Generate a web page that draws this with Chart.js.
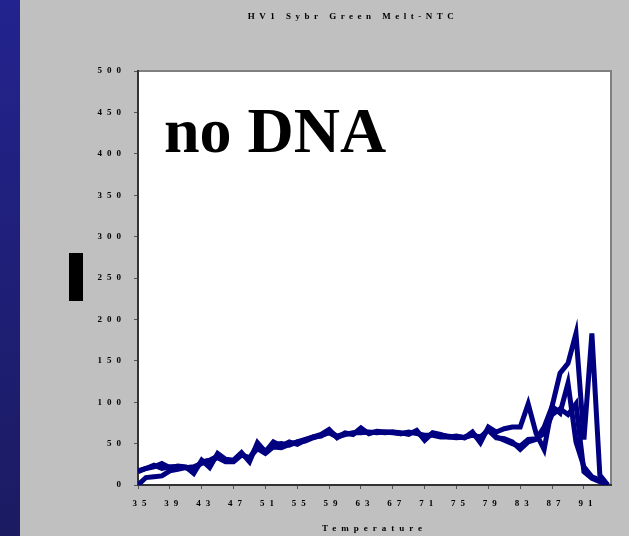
<!DOCTYPE html>
<html>
<head>
<meta charset="utf-8">
<title>HV1 Sybr Green Melt-NTC</title>
<script src="https://cdn.jsdelivr.net/npm/chart.js@4.4.1/dist/chart.umd.min.js"></script>
<style>
  html, body { margin: 0; padding: 0; background: #c0c0c0; }
  #wrap { position: relative; width: 629px; height: 536px; overflow: hidden; }
  #sidebar {
    position: absolute; left: 0; top: 0; width: 20px; height: 536px;
    background: linear-gradient(to bottom, #23238f, #1b1b62);
  }
  #marker { position: absolute; left: 69px; top: 253px; width: 14px; height: 48px; background: #000; }
  canvas { position: absolute; left: 0; top: 0; }
</style>
</head>
<body>
<div id="wrap">
  <div id="sidebar"></div>
  <canvas id="melt" width="629" height="536"></canvas>
  <div id="marker"></div>
</div>
<script>
// Temperatures (one reading per degree)
const temps = [35, 36, 37, 38, 39, 40, 41, 42, 43, 44, 45, 46, 47, 48, 49, 50, 51, 52, 53, 54,
               55, 56, 57, 58, 59, 60, 61, 62, 63, 64, 65, 66, 67, 68, 69, 70, 71, 72, 73, 74,
               75, 76, 77, 78, 79, 80, 81, 82, 83, 84, 85, 86, 87, 88, 89, 90, 91, 92, 93, 94];

// Three no-template wells, all drawn in the same navy
const well1 = [16, 20, 22, 26, 21, 23, 22, 14, 30, 21, 38, 31, 30, 39, 28, 51, 40, 52, 47, 52,
               49, 54, 58, 61, 67, 57, 63, 61, 69, 62, 65, 64, 64, 63, 61, 66, 54, 63, 61, 58,
               59, 57, 64, 51, 70, 64, 68, 70, 70, 98, 62, 43, 95, 135, 147, 183, 55, 183, 12, 0];
const well2 = [0, 9, 10, 11, 17, 19, 21, 22, 26, 29, 33, 28, 28, 36, 33, 44, 38, 46, 45, 49,
               52, 53, 57, 60, 63, 58, 61, 63, 63, 64, 63, 64, 63, 62, 64, 62, 60, 60, 58, 58,
               57, 58, 60, 58, 66, 57, 56, 52, 43, 52, 55, 70, 95, 87, 123, 52, 22, 10, 6, 0];
const well3 = [17, 20, 24, 20, 22, 22, 21, 17, 28, 30, 35, 29, 29, 37, 32, 48, 41, 49, 50, 48,
               52, 55, 58, 59, 65, 59, 62, 62, 66, 63, 64, 63, 64, 62, 63, 64, 57, 62, 60, 59,
               58, 57, 61, 56, 68, 58, 54, 50, 47, 55, 56, 62, 85, 92, 85, 98, 16, 8, 4, 0];

// Axis tick labels
const xTicks = [35, 39, 43, 47, 51, 55, 59, 63, 67, 71, 75, 79, 83, 87, 91];
const yTicks = [0, 50, 100, 150, 200, 250, 300, 350, 400, 450, 500];

const LINE = '#000080';
const labelFont = { family: "'Liberation Serif', 'Times New Roman', serif", size: 9, weight: 'bold' };

function toPoints(values) {
    return values.map((v, i) => ({ x: temps[i], y: v }));
}

// Plot frame, spaced-out lettering, title and slide caption
const slideDecor = {
    id: 'slideDecor',
    beforeDraw(chart) {
        const { ctx, chartArea: a } = chart;
        ctx.save();
        ctx.fillStyle = '#ffffff';
        ctx.fillRect(a.left, a.top, a.width, a.height);
        ctx.strokeStyle = '#808080';
        ctx.lineWidth = 2;
        ctx.strokeRect(a.left, a.top, a.width, a.height);
        ctx.restore();
        // the original uses widely tracked lettering for all axis text
        ctx.letterSpacing = '5px';
    },
    afterDraw(chart) {
        const ctx = chart.ctx;
        ctx.save();
        ctx.letterSpacing = '4.5px';
        ctx.fillStyle = '#000';
        ctx.font = "bold 9px 'Liberation Serif', serif";
        ctx.textAlign = 'center';
        ctx.textBaseline = 'middle';
        ctx.fillText('HV1 Sybr Green Melt-NTC', 353, 17);

        ctx.letterSpacing = '0px';
        ctx.fillStyle = '#000';
        ctx.font = "bold 64px 'Liberation Serif', serif";
        ctx.textAlign = 'left';
        ctx.textBaseline = 'alphabetic';
        ctx.fillText('no DNA', 164, 152);
        ctx.restore();
        ctx.letterSpacing = '0px';
    }
};

const makeSet = (label, values) => ({
    label,
    data: toPoints(values),
    borderColor: LINE,
    backgroundColor: LINE,
    borderWidth: 5,
    pointRadius: 0,
    tension: 0,
    fill: false
});

new Chart(document.getElementById('melt'), {
    type: 'line',
    data: {
        datasets: [
            makeSet('Well 1', well1),
            makeSet('Well 2', well2),
            makeSet('Well 3', well3)
        ]
    },
    options: {
        responsive: false,
        animation: false,
        devicePixelRatio: 1,
        layout: { padding: { left: 0, top: 71, right: 18, bottom: 0 } },
        plugins: {
            legend: { display: false },
            tooltip: { enabled: false },
            title: { display: false }
        },
        scales: {
            x: {
                type: 'linear',
                min: 35,
                max: 94.4,
                afterBuildTicks: (scale) => {
                    scale.ticks = xTicks.map(v => ({ value: v }));
                },
                afterFit: (scale) => { scale.height = 51; },
                border: { color: '#333', width: 2 },
                grid: { drawOnChartArea: false, drawTicks: true, tickLength: 4, color: '#555' },
                ticks: {
                    font: labelFont,
                    color: '#000',
                    padding: 9,
                    labelOffset: 4,
                    maxRotation: 0,
                    autoSkip: false
                },
                title: {
                    display: true,
                    text: 'Temperature',
                    font: labelFont,
                    color: '#000',
                    padding: { top: 0, bottom: 2 }
                }
            },
            y: {
                min: 0,
                max: 500,
                afterBuildTicks: (scale) => {
                    scale.ticks = yTicks.map(v => ({ value: v }));
                },
                afterFit: (scale) => { scale.width = 138; },
                border: { color: '#333', width: 2 },
                grid: { drawOnChartArea: false, drawTicks: true, tickLength: 4, color: '#555' },
                ticks: {
                    font: labelFont,
                    color: '#000',
                    padding: 8
                }
            }
        }
    },
    plugins: [slideDecor]
});
</script>
</body>
</html>
